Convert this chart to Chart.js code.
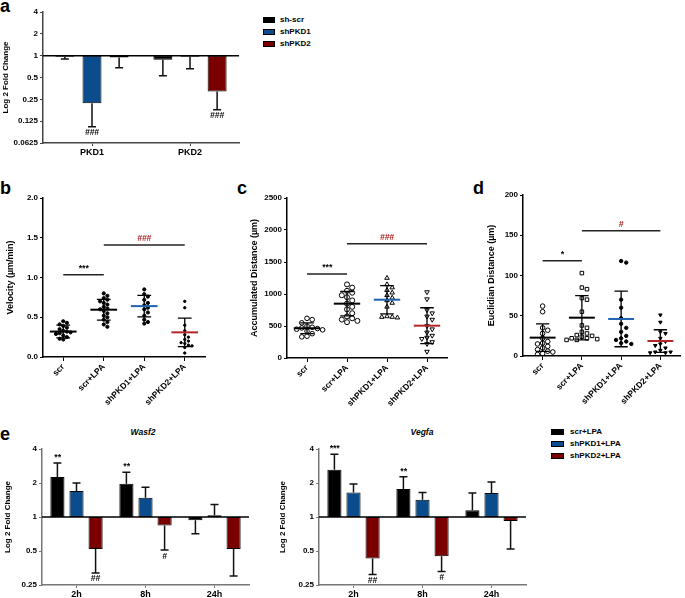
<!DOCTYPE html>
<html>
<head>
<meta charset="utf-8">
<script src="https://cdn.jsdelivr.net/npm/chart.js@4.4.0/dist/chart.umd.min.js"></script>
<style>
  body { margin: 0; background: #fff; width: 685px; height: 598px; position: relative; overflow: hidden;
         font-family: "Liberation Sans", Arial, sans-serif; }
  canvas { position: absolute; }
  .tag { position: absolute; font-weight: bold; font-size: 18px; line-height: 18px; }
  .ttl { position: absolute; font-weight: bold; font-style: italic; font-size: 8.5px; transform: translateX(-50%); }
  .leg { position: absolute; font-weight: bold; font-size: 8px; line-height: 10px; }
  .leg i { position: absolute; width: 12px; height: 6px; box-sizing: border-box; border: 1px solid #000; }
  .leg span { position: absolute; white-space: nowrap; }
</style>
</head>
<body>
<div class="tag" style="left:0;top:-3px">a</div>
<div class="tag" style="left:0;top:179px">b</div>
<div class="tag" style="left:237px;top:179px">c</div>
<div class="tag" style="left:473px;top:179px">d</div>
<div class="tag" style="left:0;top:425px">e</div>
<div class="ttl" style="left:143px;top:427px">Wasf2</div>
<div class="ttl" style="left:422px;top:427px">Vegfa</div>

<div class="leg" style="left:263px;top:0">
  <i style="left:0;top:17px;background:#000"></i><span style="left:17px;top:15px">sh-scr</span>
  <i style="left:0;top:29px;background:#0b4c8c"></i><span style="left:17px;top:27px">shPKD1</span>
  <i style="left:0;top:41px;background:#7a0000"></i><span style="left:17px;top:39px">shPKD2</span>
</div>
<div class="leg" style="left:551px;top:0">
  <i style="left:0;top:429px;width:13px;background:#000"></i><span style="left:19px;top:427px">scr+LPA</span>
  <i style="left:0;top:441px;width:13px;background:#0b4c8c"></i><span style="left:19px;top:439px">shPKD1+LPA</span>
  <i style="left:0;top:453px;width:13px;background:#7a0000"></i><span style="left:19px;top:451px">shPKD2+LPA</span>
</div>

<canvas id="chartA" style="left:0;top:0" width="250" height="165"></canvas>
<canvas id="chartB" style="left:0;top:180px" width="230" height="235"></canvas>
<canvas id="chartC" style="left:230px;top:180px" width="230" height="235"></canvas>
<canvas id="chartD" style="left:460px;top:180px" width="225" height="235"></canvas>
<canvas id="chartE1" style="left:0;top:420px" width="260" height="178"></canvas>
<canvas id="chartE2" style="left:270px;top:420px" width="265" height="178"></canvas>

<script>
// ---- panel a ----
var genes = ['PKD1', 'PKD2'];
var aScr = [0.97, 0.88];
var aScrErr = [0.9, 0.53];
var aPKD1 = [0.22, 0.97];
var aPKD1Err = [0.105, 0.66];
var aPKD2 = [0.94, 0.32];
var aPKD2Err = [0.68, 0.18];
var aTicks = [0.0625, 0.125, 0.25, 0.5, 1, 2, 4];

// ---- panels b, c, d ----
var groups = ['scr', 'scr+LPA', 'shPKD1+LPA', 'shPKD2+LPA'];
var velScr = [0.45, 0.43, 0.41, 0.39, 0.37, 0.35, 0.33, 0.32, 0.31, 0.30, 0.29, 0.27, 0.25, 0.23, 0.22];
var velScrLpa = [0.80, 0.77, 0.74, 0.72, 0.70, 0.68, 0.66, 0.63, 0.61, 0.60, 0.58, 0.55, 0.52, 0.50, 0.47, 0.44, 0.41, 0.38];
var velPKD1 = [0.85, 0.79, 0.76, 0.72, 0.68, 0.65, 0.62, 0.60, 0.56, 0.52, 0.47, 0.44, 0.42];
var velPKD2 = [0.70, 0.62, 0.40, 0.33, 0.28, 0.25, 0.22, 0.20, 0.18, 0.17, 0.15, 0.14, 0.12, 0.05];
var velMean = [0.32, 0.595, 0.64, 0.31];
var velSd = [0.08, 0.13, 0.135, 0.18];

var accScr = [620, 600, 550, 500, 480, 470, 460, 450, 440, 420, 380, 340, 330];
var accScrLpa = [1150, 1100, 1050, 1020, 980, 950, 900, 850, 800, 760, 700, 650, 620, 600, 580, 560];
var accPKD1 = [1250, 1150, 1100, 1060, 1020, 980, 940, 900, 860, 800, 650, 640, 640, 630];
var accPKD2 = [1030, 920, 750, 700, 650, 600, 500, 450, 400, 350, 320, 300, 250, 220, 100];
var accMean = [465, 849, 911, 505];
var accSd = [85, 190, 220, 280];

var eucScr = [62, 55, 35, 32, 28, 22, 18, 16, 15, 12, 10, 8, 6, 5, 3, 2];
var eucScrLpa = [103, 85, 83, 72, 70, 55, 38, 35, 30, 28, 26, 25, 24, 22, 22, 21, 20, 20];
var eucPKD1 = [118, 116, 70, 60, 47, 40, 35, 30, 25, 22, 20, 18, 16, 15];
var eucPKD2 = [51, 42, 30, 28, 22, 18, 15, 13, 10, 7, 5, 5, 4, 4];
var eucMean = [22.8, 47.6, 46, 18.6];
var eucSd = [17, 27.5, 34.5, 14];

// ---- panel e ----
var times = ['2h', '8h', '24h'];
var eTicks = [0.25, 0.5, 1, 2, 4];
var wasfScr = [2.26, 1.97, 0.935];
var wasfScrErr = [3.0, 2.49, 0.71];
var wasfPKD1 = [1.70, 1.48, 1.035];
var wasfPKD1Err = [2.0, 1.83, 1.29];
var wasfPKD2 = [0.52, 0.84, 0.52];
var wasfPKD2Err = [0.32, 0.51, 0.30];
var vegfScr = [2.62, 1.77, 1.15];
var vegfScrErr = [3.6, 2.27, 1.63];
var vegfPKD1 = [1.65, 1.42, 1.63];
var vegfPKD1Err = [1.96, 1.65, 2.04];
var vegfPKD2 = [0.43, 0.45, 0.92];
var vegfPKD2Err = [0.31, 0.33, 0.52];

var BLACK = '#000000', BLUE = '#0b4c8c', RED = '#7a0000';
var FONT = '"Liberation Sans", Arial, sans-serif';
Chart.defaults.font.family = FONT;
Chart.defaults.font.weight = 'bold';
Chart.defaults.color = '#000';

function logAxis(ticks, width, title, axisColor, titlePad) {
  return {
    type: 'logarithmic', min: ticks[0], max: ticks[ticks.length - 1],
    afterBuildTicks: function (s) { s.ticks = ticks.map(function (v) { return { value: v }; }); },
    afterFit: function (s) { s.width = width; },
    ticks: { callback: function (v) { return String(v); }, font: { size: 8, weight: 'bold' }, padding: 2, color: '#000' },
    grid: { display: true, drawOnChartArea: false, drawTicks: true, tickLength: 3, color: axisColor },
    border: { display: true, color: axisColor, width: 1.5 },
    title: { display: true, text: title, font: { size: 8, weight: 'bold' }, padding: { top: titlePad, bottom: 2 } }
  };
}

function catAxis(height, axisColor, fontSize) {
  return {
    afterFit: function (s) { s.height = height; },
    ticks: { font: { size: fontSize, weight: 'bold' }, padding: 1, color: '#000' },
    grid: { display: true, drawOnChartArea: false, offset: false, tickLength: 3, color: axisColor },
    border: { display: true, color: axisColor, width: 1.5 }
  };
}

// line at fold change 1 plus error bars and marks
var barExtras = {
  id: 'barExtras',
  afterDatasetsDraw: function (chart) {
    var ctx = chart.ctx, y = chart.scales.y, area = chart.chartArea;
    ctx.save();
    chart.data.datasets.forEach(function (ds, i) {
      chart.getDatasetMeta(i).data.forEach(function (bar, k) {
        var end = ds.data[k][1], e = ds.err[k];
        var y0 = y.getPixelForValue(end), y1 = y.getPixelForValue(e);
        ctx.strokeStyle = '#111';
        ctx.lineWidth = 1.5;
        ctx.beginPath();
        ctx.moveTo(bar.x, y0); ctx.lineTo(bar.x, y1);
        ctx.moveTo(bar.x - 4, y1); ctx.lineTo(bar.x + 4, y1);
        ctx.stroke();
        if (ds.marks && ds.marks[k]) {
          var up = e > end;
          ctx.fillStyle = '#000';
          ctx.font = 'italic bold 8.5px ' + FONT;
          ctx.textAlign = 'center';
          ctx.textBaseline = up ? 'bottom' : 'top';
          ctx.fillText(ds.marks[k], bar.x, up ? y1 - 1 : y1 + 2);
        }
      });
    });
    var py = y.getPixelForValue(1);
    ctx.strokeStyle = '#000';
    ctx.lineWidth = 1.5;
    ctx.beginPath(); ctx.moveTo(area.left, py); ctx.lineTo(area.right, py); ctx.stroke();
    ctx.restore();
  }
};

function barSet(label, vals, err, color, marks) {
  return {
    label: label, data: vals.map(function (v) { return [1, v]; }), err: err, marks: marks,
    backgroundColor: color, borderColor: '#000', borderWidth: 1, borderSkipped: false
  };
}

new Chart(document.getElementById('chartA'), {
  type: 'bar',
  data: {
    labels: genes,
    datasets: [
      barSet('sh-scr', aScr, aScrErr, BLACK),
      barSet('shPKD1', aPKD1, aPKD1Err, BLUE, ['###', '']),
      barSet('shPKD2', aPKD2, aPKD2Err, RED, ['', '###'])
    ]
  },
  options: {
    responsive: false, animation: false,
    layout: { padding: { top: 12, right: 11 } },
    plugins: { legend: { display: false }, tooltip: { enabled: false } },
    datasets: { bar: { categoryPercentage: 0.83, barPercentage: 0.7 } },
    scales: { x: catAxis(22, '#444', 9), y: logAxis(aTicks, 43, 'Log 2 Fold Change', '#444', 1) }
  },
  plugins: [barExtras]
});

function eChart(id, s1, e1, s2, e2, s3, e3, m1, m3, yWidth, rightPad, titlePad) {
  new Chart(document.getElementById(id), {
    type: 'bar',
    data: {
      labels: times,
      datasets: [
        barSet('scr+LPA', s1, e1, BLACK, m1),
        barSet('shPKD1+LPA', s2, e2, BLUE),
        barSet('shPKD2+LPA', s3, e3, RED, m3)
      ]
    },
    options: {
      responsive: false, animation: false,
      layout: { padding: { top: 29, right: rightPad } },
      plugins: { legend: { display: false }, tooltip: { enabled: false } },
      datasets: { bar: { categoryPercentage: 0.83, barPercentage: 0.74 } },
      scales: { x: catAxis(13, '#777', 9), y: logAxis(eTicks, yWidth, 'Log 2 Fold Change', '#777', titlePad) }
    },
    plugins: [barExtras]
  });
}
eChart('chartE1', wasfScr, wasfScrErr, wasfPKD1, wasfPKD1Err, wasfPKD2, wasfPKD2Err,
  ['**', '**', ''], ['##', '#', ''], 42, 11, 3);
eChart('chartE2', vegfScr, vegfScrErr, vegfPKD1, vegfPKD1Err, vegfPKD2, vegfPKD2Err,
  ['***', '**', ''], ['##', '#', ''], 49, 9, 8);

// spread overlapping points sideways (beeswarm)
function swarm(vals, tol, step) {
  var placed = [];
  return vals.map(function (v) {
    for (var n = 0; n < 40; n++) {
      var off = n === 0 ? 0 : (n % 2 ? 1 : -1) * Math.ceil(n / 2) * step;
      var hit = placed.some(function (p) { return Math.abs(p.v - v) < tol && Math.abs(p.off - off) < step * 0.9; });
      if (!hit) { placed.push({ v: v, off: off }); return off; }
    }
    return 0;
  });
}

function dotChart(id, cfg) {
  var meanColors = ['#000', '#000', '#1f63b0', '#b3262a'];
  var datasets = cfg.series.map(function (vals, i) {
    var offs = swarm(vals, cfg.tol, cfg.step);
    var st = cfg.styles[i];
    return {
      data: vals.map(function (v, k) { return { x: i + offs[k], y: v }; }),
      pointStyle: st.style, pointRadius: st.r, pointRotation: st.rot || 0,
      pointBackgroundColor: st.fill ? '#000' : 'rgba(0,0,0,0)',
      pointBorderColor: '#000', pointBorderWidth: 1
    };
  });
  var summary = {
    id: 'summary',
    afterDatasetsDraw: function (chart) {
      var ctx = chart.ctx, x = chart.scales.x, y = chart.scales.y;
      ctx.save();
      cfg.mean.forEach(function (m, i) {
        var cx = x.getPixelForValue(i);
        var capW = x.getPixelForValue(i + 0.17) - cx, meanW = x.getPixelForValue(i + 0.33) - cx;
        var hi = y.getPixelForValue(m + cfg.sd[i]), lo = y.getPixelForValue(Math.max(m - cfg.sd[i], 0));
        ctx.strokeStyle = '#000';
        ctx.lineWidth = 1.3;
        ctx.beginPath();
        ctx.moveTo(cx, hi); ctx.lineTo(cx, lo);
        ctx.moveTo(cx - capW, hi); ctx.lineTo(cx + capW, hi);
        ctx.moveTo(cx - capW, lo); ctx.lineTo(cx + capW, lo);
        ctx.stroke();
        var my = y.getPixelForValue(m);
        ctx.strokeStyle = meanColors[i];
        ctx.lineWidth = 2;
        ctx.beginPath(); ctx.moveTo(cx - meanW, my); ctx.lineTo(cx + meanW, my); ctx.stroke();
      });
      cfg.sig.forEach(function (s) {
        var x0 = x.getPixelForValue(s.from), x1 = x.getPixelForValue(s.to), py = y.getPixelForValue(s.y);
        ctx.strokeStyle = '#222';
        ctx.lineWidth = 1.5;
        ctx.beginPath(); ctx.moveTo(x0, py); ctx.lineTo(x1, py); ctx.stroke();
        ctx.fillStyle = s.color;
        ctx.font = 'italic bold 8.5px ' + FONT;
        ctx.textAlign = 'center';
        ctx.textBaseline = 'bottom';
        ctx.fillText(s.text, (x0 + x1) / 2, py - 2);
      });
      ctx.restore();
    }
  };
  new Chart(document.getElementById(id), {
    type: 'scatter',
    data: { datasets: datasets },
    options: {
      responsive: false, animation: false,
      layout: { padding: { top: cfg.top, right: cfg.right } },
      plugins: { legend: { display: false }, tooltip: { enabled: false } },
      scales: {
        x: {
          type: 'linear', min: -0.5, max: 3.5,
          afterBuildTicks: function (s) { s.ticks = [0, 1, 2, 3].map(function (v) { return { value: v }; }); },
          afterFit: function (s) { s.height = cfg.xHeight; },
          ticks: { callback: function (v) { return groups[Math.round(v)]; }, minRotation: 45, maxRotation: 45,
                   autoSkip: false, font: { size: 8.5, weight: 'bold' }, padding: 1, color: '#000' },
          grid: { display: true, drawOnChartArea: false, tickLength: 4, color: '#000' },
          border: { display: true, color: '#000', width: 1.5 }
        },
        y: {
          min: 0, max: cfg.max,
          afterBuildTicks: function (s) {
            var t = [];
            for (var v = 0; v <= cfg.max + 1e-9; v += cfg.stepTick) t.push({ value: v });
            s.ticks = t;
          },
          afterFit: function (s) { s.width = cfg.yWidth; },
          ticks: { callback: cfg.fmt, font: { size: 8, weight: 'bold' }, padding: 2, color: '#000' },
          grid: { display: true, drawOnChartArea: false, tickLength: 3, color: '#000' },
          border: { display: true, color: '#000', width: 1.5 },
          title: { display: true, text: cfg.title, font: { size: 9, weight: 'bold' }, padding: { top: cfg.titlePad, bottom: 4 } }
        }
      }
    },
    plugins: [summary]
  });
}

dotChart('chartB', {
  series: [velScr, velScrLpa, velPKD1, velPKD2], mean: velMean, sd: velSd,
  tol: 0.045, step: 0.09, max: 2, stepTick: 0.5, fmt: function (v) { return v.toFixed(1); },
  title: 'Velocity (\u00b5m/min)', titlePad: 5, yWidth: 43, top: 18, right: 25, xHeight: 58,
  styles: [{ style: 'circle', r: 1.6, fill: true }, { style: 'circle', r: 1.6, fill: true },
           { style: 'circle', r: 1.6, fill: true }, { style: 'circle', r: 1.2, fill: true }],
  sig: [{ from: 0, to: 1, y: 1.035, text: '***', color: '#000' },
        { from: 1, to: 3, y: 1.41, text: '###', color: '#b01818' }]
});

dotChart('chartC', {
  series: [accScr, accScrLpa, accPKD1, accPKD2], mean: accMean, sd: accSd,
  tol: 80, step: 0.13, max: 2500, stepTick: 500, fmt: function (v) { return String(v); },
  title: 'Accumulated Distance (\u00b5m)', titlePad: 19, yWidth: 57, top: 18, right: 13, xHeight: 57,
  styles: [{ style: 'circle', r: 2.3 }, { style: 'circle', r: 2.5 },
           { style: 'triangle', r: 2.6 }, { style: 'triangle', r: 2.6, rot: 180 }],
  sig: [{ from: 0, to: 1, y: 1312, text: '***', color: '#000' },
        { from: 1, to: 3, y: 1786, text: '###', color: '#b01818' }]
});

dotChart('chartD', {
  series: [eucScr, eucScrLpa, eucPKD1, eucPKD2], mean: eucMean, sd: eucSd,
  tol: 6, step: 0.13, max: 200, stepTick: 50, fmt: function (v) { return String(v); },
  title: 'Euclidian Distance (\u00b5m)', titlePad: 26, yWidth: 63, top: 15, right: 0, xHeight: 59,
  styles: [{ style: 'circle', r: 2.3 }, { style: 'rect', r: 2.5 },
           { style: 'circle', r: 1.7, fill: true }, { style: 'triangle', r: 2, rot: 180, fill: true }],
  sig: [{ from: 0, to: 1, y: 118.4, text: '*', color: '#000' },
        { from: 1, to: 3, y: 155.7, text: '#', color: '#b01818' }]
});
</script>
</body>
</html>
